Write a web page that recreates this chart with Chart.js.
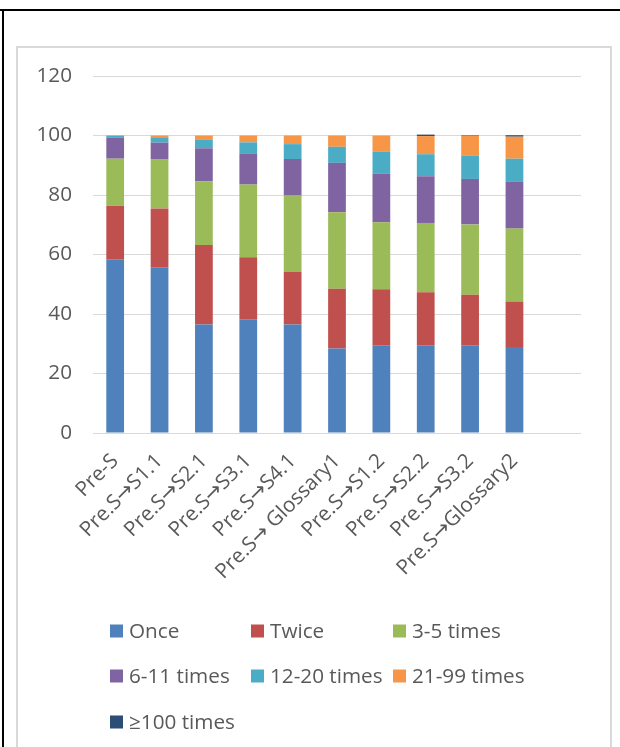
<!DOCTYPE html>
<html>
<head>
<meta charset="utf-8">
<script src="https://cdn.jsdelivr.net/npm/chart.js@4"></script>
<style>
  html, body { margin: 0; padding: 0; background: #fff; }
  body { width: 620px; height: 747px; position: relative; overflow: hidden; }
  #topline { position: absolute; left: 0; top: 9px; width: 620px; height: 2px; background: #000; }
  #leftline { position: absolute; left: 2px; top: 9px; width: 2px; height: 738px; background: #000; }
  #frame { position: absolute; left: 16px; top: 46px; width: 592px; height: 720px; border: 2px solid #d9d9d9; border-bottom: none; }
  #wrap { position: absolute; left: 18px; top: 48px; width: 592px; height: 699px; }
</style>
</head>
<body>
<div id="topline"></div>
<div id="leftline"></div>
<div id="frame"></div>
<div id="wrap"><canvas id="c"></canvas></div>
<script>
const categories = ["Pre-S", "Pre.S\u2192S1.1", "Pre.S\u2192S2.1", "Pre.S\u2192S3.1", "Pre.S\u2192S4.1",
  "Pre.S\u2192 Glossary1", "Pre.S\u2192S1.2", "Pre.S\u2192S2.2", "Pre.S\u2192S3.2", "Pre.S\u2192Glossary2", ""];
const seriesNames = ["Once", "Twice", "3-5 times", "6-11 times", "12-20 times", "21-99 times", "\u2265100 times"];
const once     = [58.4, 55.7, 36.5, 38.2, 36.5, 28.4, 29.5, 29.5, 29.5, 28.9, null];
const twice    = [18.0, 19.8, 26.7, 20.9, 17.6, 20.1, 18.8, 17.8, 17.0, 15.3, null];
const t3to5    = [15.8, 16.4, 21.4, 24.4, 25.7, 25.7, 22.5, 23.3, 23.6, 24.5, null];
const t6to11   = [7.0, 5.7, 11.1, 10.5, 12.3, 16.6, 16.3, 15.7, 15.3, 15.7, null];
const t12to20  = [0.8, 1.8, 3.0, 3.7, 5.0, 5.4, 7.4, 7.4, 7.9, 7.8, null];
const t21to99  = [0.0, 0.6, 1.3, 2.3, 2.9, 3.8, 5.5, 6.1, 6.6, 7.4, null];
const t100plus = [0.0, 0.0, 0.0, 0.0, 0.0, 0.0, 0.0, 0.5, 0.2, 0.5, null];
const yTicks = [0, 20, 40, 60, 80, 100, 120];

const colors = ["#4F81BD", "#C0504D", "#9BBB59", "#8064A2", "#4BACC6", "#F79646", "#2C4D75"];
const seriesValues = [once, twice, t3to5, t6to11, t12to20, t21to99, t100plus];

const FONT = "'Open Sans', 'DejaVu Sans', sans-serif";
const TEXT = "#595959";

const gridLegend = {
  id: 'gridLegend',
  afterDraw(chart) {
    const ctx = chart.ctx;
    const cols = [92, 233, 375];
    const rows = [583, 628, 674];
    ctx.save();
    ctx.font = "20.7px " + FONT;
    ctx.textBaseline = 'middle';
    ctx.textAlign = 'left';
    chart.data.datasets.forEach((ds, i) => {
      const x = cols[i % 3], y = rows[Math.floor(i / 3)];
      ctx.fillStyle = ds.backgroundColor;
      ctx.fillRect(x, y - 6.5, 13, 13);
      ctx.fillStyle = TEXT;
      ctx.fillText(ds.label, x + 19, y + 1);
    });
    ctx.restore();
  }
};

new Chart(document.getElementById('c'), {
  type: 'bar',
  data: {
    labels: categories,
    datasets: seriesNames.map((n, i) => ({
      label: n,
      data: seriesValues[i],
      backgroundColor: colors[i],
      borderWidth: 0,
      categoryPercentage: 1.0,
      barPercentage: 0.4
    }))
  },
  options: {
    responsive: true,
    maintainAspectRatio: false,
    animation: false,
    layout: { padding: { left: 0, right: 29, top: 28, bottom: 154 } },
    plugins: { legend: { display: false }, tooltip: { enabled: false } },
    scales: {
      x: {
        stacked: true,
        grid: { display: false },
        border: { display: false },
        afterFit(scale) { scale.height = 160; scale.paddingLeft = 0; scale.paddingRight = 0; },
        ticks: {
          autoSkip: false, minRotation: 45, maxRotation: 45, padding: 8,
          color: TEXT, font: { family: FONT, size: 20.7 }
        }
      },
      y: {
        stacked: true,
        min: 0, max: 120,
        afterFit(scale) { scale.width = 75; scale.paddingTop = 0; scale.paddingBottom = 0; },
        afterBuildTicks(scale) { scale.ticks = yTicks.map(v => ({ value: v })); },
        grid: { color: "#d9d9d9", lineWidth: 1, drawTicks: false },
        border: { display: false },
        ticks: { padding: 21, color: TEXT, font: { family: FONT, size: 20.7 } }
      }
    }
  },
  plugins: [gridLegend]
});
</script>
</body>
</html>
